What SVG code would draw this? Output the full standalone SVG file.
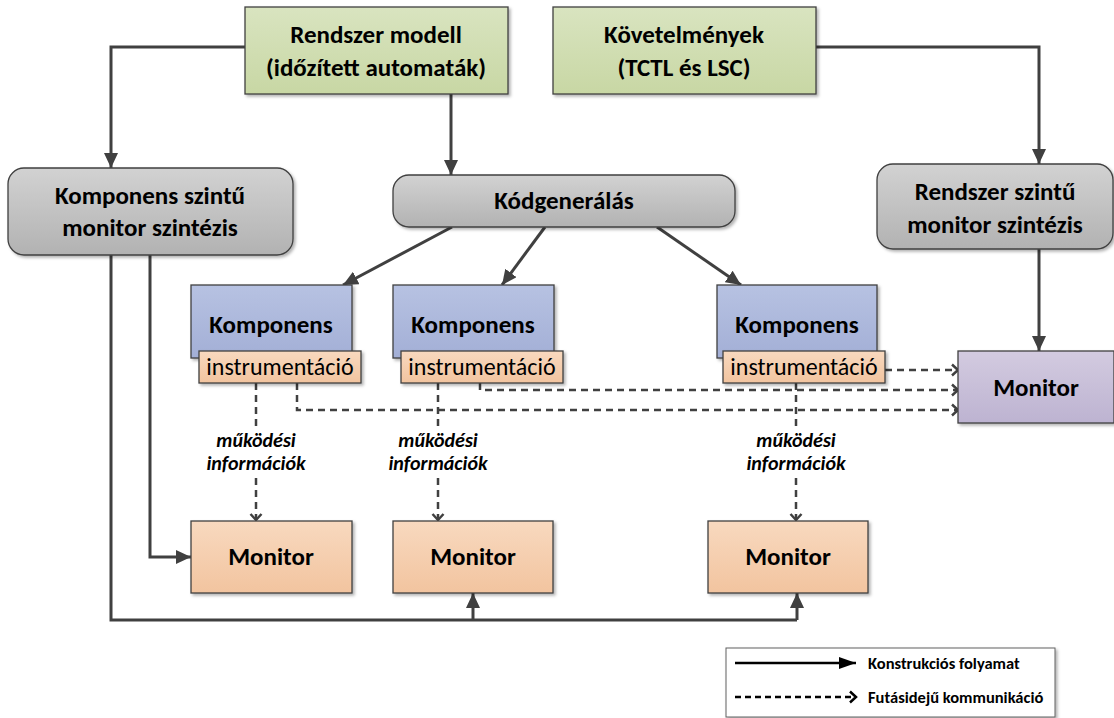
<svg xmlns="http://www.w3.org/2000/svg" width="1114" height="718" viewBox="0 0 1114 718">
  <defs>
    <linearGradient id="gGreen" x1="0" y1="0" x2="0" y2="1">
      <stop offset="0" stop-color="#d9e4c0"/>
      <stop offset="1" stop-color="#c8d7a4"/>
    </linearGradient>
    <linearGradient id="gGray" x1="0" y1="0" x2="0" y2="1">
      <stop offset="0" stop-color="#d2d2d2"/>
      <stop offset="1" stop-color="#b2b2b2"/>
    </linearGradient>
    <linearGradient id="gBlue" x1="0" y1="0" x2="0" y2="1">
      <stop offset="0" stop-color="#b7c2e2"/>
      <stop offset="1" stop-color="#a3afd6"/>
    </linearGradient>
    <linearGradient id="gOrange" x1="0" y1="0" x2="0" y2="1">
      <stop offset="0" stop-color="#f8d9bf"/>
      <stop offset="1" stop-color="#f2c49f"/>
    </linearGradient>
    <linearGradient id="gPurple" x1="0" y1="0" x2="0" y2="1">
      <stop offset="0" stop-color="#d3cbe0"/>
      <stop offset="1" stop-color="#bdb3d1"/>
    </linearGradient>
    <filter id="shadow" x="-10%" y="-10%" width="130%" height="140%">
      <feDropShadow dx="2" dy="2" stdDeviation="1.5" flood-color="#000" flood-opacity="0.3"/>
    </filter>
    <marker id="arrowSolid" markerUnits="userSpaceOnUse" markerWidth="16" markerHeight="14" refX="15" refY="7" orient="auto">
      <path d="M0,0 L15,7 L0,14 Z" fill="#404040"/>
    </marker>
    <marker id="arrowLegend" markerUnits="userSpaceOnUse" markerWidth="18" markerHeight="12" refX="17" refY="6" orient="auto">
      <path d="M0,0 L17,6 L0,12 Z" fill="#000"/>
    </marker>
    <marker id="arrowOpen" markerUnits="userSpaceOnUse" markerWidth="10" markerHeight="14" refX="8" refY="7" orient="auto">
      <path d="M2,1.5 L8,7 L2,12.5" fill="none" stroke="#404040" stroke-width="2.5"/>
    </marker>
    <marker id="arrowOpenLegend" markerUnits="userSpaceOnUse" markerWidth="10" markerHeight="14" refX="8" refY="7" orient="auto">
      <path d="M2,1.5 L8,7 L2,12.5" fill="none" stroke="#000" stroke-width="2.5"/>
    </marker>
  </defs>
  <style>
    text { font-family: Carlito, Lato, "Open Sans", sans-serif; fill: #000; text-anchor: middle; }
    .t { font-size: 25px; font-weight: bold; }
    .ti { font-size: 24px; font-weight: normal; }
    .lbl { font-size: 20px; font-weight: bold; font-style: italic; }
    .leg { font-size: 16.5px; font-weight: bold; text-anchor: start; }
    .box { stroke: #404040; stroke-width: 1.3; filter: url(#shadow); }
    .solid { fill: none; stroke: #404040; stroke-width: 3; }
    .dash { fill: none; stroke: #404040; stroke-width: 2.5; stroke-dasharray: 7 5; }
  </style>

  <rect width="1114" height="718" fill="#fff"/>

  <!-- connectors -->
  <g id="connectors">
    <!-- construction flow -->
    <polyline class="solid" points="245,47 111,47 111,168" marker-end="url(#arrowSolid)"/>
    <line class="solid" x1="451" y1="94" x2="451" y2="175" marker-end="url(#arrowSolid)"/>
    <polyline class="solid" points="816,47 1039,47 1039,164" marker-end="url(#arrowSolid)"/>
    <line class="solid" x1="1039" y1="249" x2="1039" y2="351" marker-end="url(#arrowSolid)"/>
    <line class="solid" x1="452" y1="227" x2="343" y2="285" marker-end="url(#arrowSolid)"/>
    <line class="solid" x1="545" y1="227" x2="502" y2="285" marker-end="url(#arrowSolid)"/>
    <line class="solid" x1="657" y1="227" x2="741" y2="285" marker-end="url(#arrowSolid)"/>
    <polyline class="solid" points="150,255 150,557 191,557" marker-end="url(#arrowSolid)"/>
    <polyline class="solid" points="111,255 111,620 797,620"/>
    <line class="solid" x1="473" y1="620" x2="473" y2="593" marker-end="url(#arrowSolid)"/>
    <line class="solid" x1="797" y1="620" x2="797" y2="593" marker-end="url(#arrowSolid)"/>

    <!-- runtime communication -->
    <polyline class="dash" points="256,383 256,426"/>
    <line class="dash" x1="256" y1="478" x2="256" y2="520" marker-end="url(#arrowOpen)"/>
    <polyline class="dash" points="297,383 297,410 958,410" marker-end="url(#arrowOpen)"/>
    <polyline class="dash" points="438,383 438,426"/>
    <line class="dash" x1="438" y1="478" x2="438" y2="520" marker-end="url(#arrowOpen)"/>
    <polyline class="dash" points="480,383 480,390 958,390" marker-end="url(#arrowOpen)"/>
    <line class="dash" x1="885" y1="370" x2="958" y2="370" marker-end="url(#arrowOpen)"/>
    <polyline class="dash" points="796,383 796,426"/>
    <line class="dash" x1="796" y1="478" x2="796" y2="520" marker-end="url(#arrowOpen)"/>
  </g>

  <!-- labels on runtime links -->
  <g id="labels">
    <text class="lbl" x="256" y="447">működési</text>
    <text class="lbl" x="256" y="470">információk</text>
    <text class="lbl" x="438" y="447">működési</text>
    <text class="lbl" x="438" y="470">információk</text>
    <text class="lbl" x="796" y="447">működési</text>
    <text class="lbl" x="796" y="470">információk</text>
  </g>

  <g id="system-model">
    <rect class="box" x="245" y="7" width="263" height="87" fill="url(#gGreen)"/>
    <text class="t" x="376" y="43">Rendszer modell</text>
    <text class="t" x="376" y="76">(időzített automaták)</text>
  </g>

  <g id="requirements">
    <rect class="box" x="553" y="7" width="263" height="87" fill="url(#gGreen)"/>
    <text class="t" x="684" y="43">Követelmények</text>
    <text class="t" x="684" y="76">(TCTL és LSC)</text>
  </g>

  <g id="component-monitor-synthesis">
    <rect class="box" x="8" y="168" width="285" height="87" rx="16" fill="url(#gGray)"/>
    <text class="t" x="150" y="204">Komponens szintű</text>
    <text class="t" x="150" y="236">monitor szintézis</text>
  </g>

  <g id="code-generation">
    <rect class="box" x="393" y="175" width="342" height="52" rx="16" fill="url(#gGray)"/>
    <text class="t" x="564" y="209">Kódgenerálás</text>
  </g>

  <g id="system-monitor-synthesis">
    <rect class="box" x="877" y="164" width="236" height="85" rx="16" fill="url(#gGray)"/>
    <text class="t" x="995" y="200">Rendszer szintű</text>
    <text class="t" x="995" y="233">monitor szintézis</text>
  </g>

  <g id="component-1">
    <rect class="box" x="191" y="285" width="161" height="73" fill="url(#gBlue)"/>
    <text class="t" x="271" y="333">Komponens</text>
    <rect class="box" x="199" y="351" width="162" height="32" fill="url(#gOrange)"/>
    <text class="ti" x="280" y="375">instrumentáció</text>
  </g>

  <g id="component-2">
    <rect class="box" x="393" y="285" width="161" height="73" fill="url(#gBlue)"/>
    <text class="t" x="473" y="333">Komponens</text>
    <rect class="box" x="401" y="351" width="162" height="32" fill="url(#gOrange)"/>
    <text class="ti" x="482" y="375">instrumentáció</text>
  </g>

  <g id="component-3">
    <rect class="box" x="717" y="285" width="160" height="73" fill="url(#gBlue)"/>
    <text class="t" x="797" y="333">Komponens</text>
    <rect class="box" x="723" y="351" width="162" height="32" fill="url(#gOrange)"/>
    <text class="ti" x="804" y="375">instrumentáció</text>
  </g>

  <g id="system-monitor">
    <rect class="box" x="958" y="351" width="156" height="72" fill="url(#gPurple)"/>
    <text class="t" x="1036" y="396">Monitor</text>
  </g>

  <g id="monitor-1">
    <rect class="box" x="191" y="521" width="161" height="72" fill="url(#gOrange)"/>
    <text class="t" x="271" y="565">Monitor</text>
  </g>

  <g id="monitor-2">
    <rect class="box" x="393" y="521" width="160" height="72" fill="url(#gOrange)"/>
    <text class="t" x="473" y="565">Monitor</text>
  </g>

  <g id="monitor-3">
    <rect class="box" x="708" y="521" width="160" height="72" fill="url(#gOrange)"/>
    <text class="t" x="788" y="565">Monitor</text>
  </g>

  <g id="legend">
    <rect x="726" y="648" width="329" height="69" fill="#fff" stroke="#606060" stroke-width="1" filter="url(#shadow)"/>
    <line x1="735" y1="663" x2="856" y2="663" stroke="#000" stroke-width="2.5" marker-end="url(#arrowLegend)"/>
    <text class="leg" x="868" y="669">Konstrukciós folyamat</text>
    <line x1="735" y1="697" x2="856" y2="697" stroke="#000" stroke-width="2.5" stroke-dasharray="6 4" marker-end="url(#arrowOpenLegend)"/>
    <text class="leg" x="868" y="703">Futásidejű kommunikáció</text>
  </g>
</svg>
